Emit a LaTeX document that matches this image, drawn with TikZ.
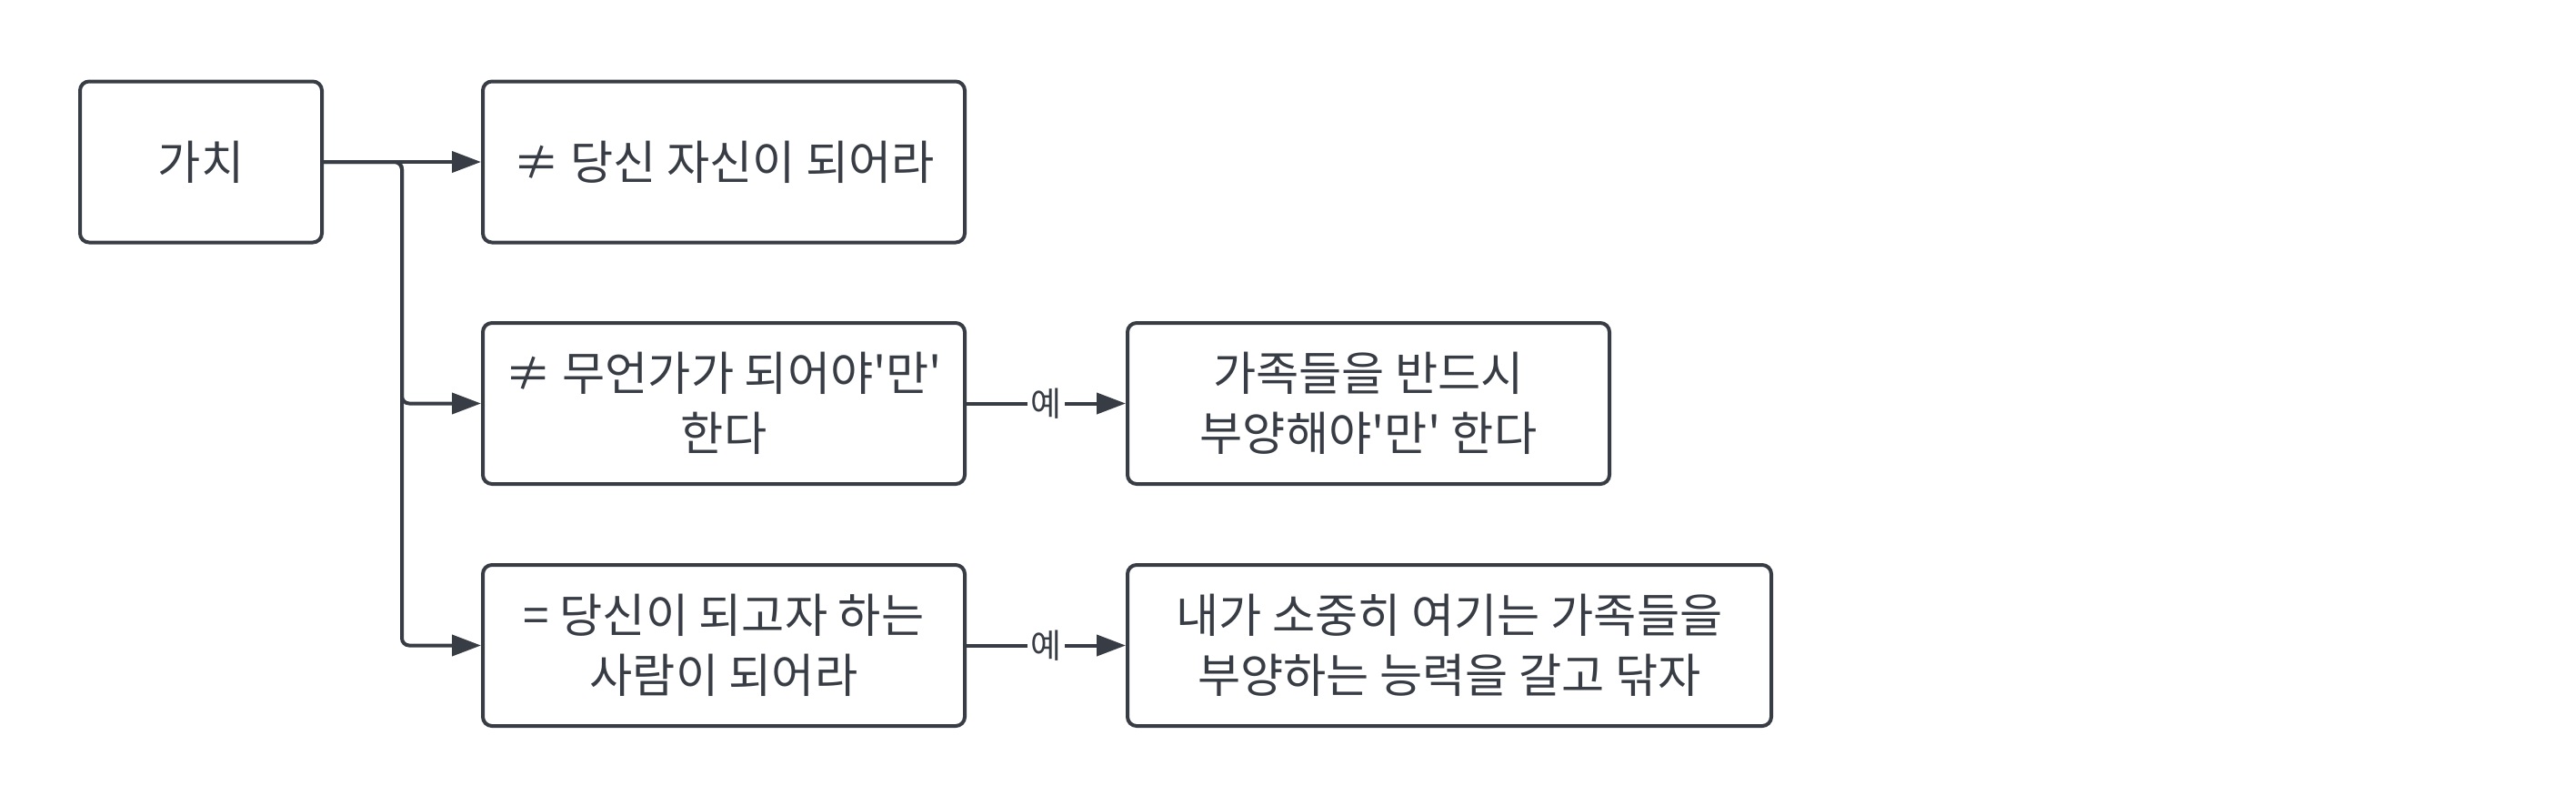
\documentclass[tikz,border=0pt]{standalone}
\usepackage{fontspec}
\setmainfont{Noto Sans CJK KR}
\usetikzlibrary{arrows.meta}
\definecolor{ink}{HTML}{383C44}
\newcommand{\sq}{\textquotesingle}
\tikzset{
  box/.style={draw=ink, line width=0.04cm, rounded corners=0.1cm, minimum height=1.77cm,
    inner sep=0pt, align=center, text=ink, font=\fontsize{14.6}{18.8}\selectfont},
  conn/.style={draw=ink, line width=0.04cm, -{Triangle[length=0.32cm,width=0.23cm]}},
  lbl/.style={fill=white, inner sep=1pt, text=ink, font=\fontsize{10.5}{12}\selectfont},
}
\begin{document}
\begin{tikzpicture}
\useasboundingbox (0,0) rectangle (28.33,8.85);
\node[box, minimum width=2.66cm] (a) at (2.21,7.07) {가치};
\node[box, minimum width=5.30cm] (b2) at (7.96,7.07) {≠ 당신 자신이 되어라};
\node[box, minimum width=5.30cm] (b3) at (7.96,4.415) {≠ 무언가가 되어야\sq 만\sq\\한다};
\node[box, minimum width=5.30cm] (b4) at (7.96,1.755) {= 당신이 되고자 하는\\사람이 되어라};
\node[box, minimum width=5.30cm] (b5) at (15.05,4.415) {가족들을 반드시\\부양해야\sq 만\sq{} 한다};
\node[box, minimum width=7.08cm] (b6) at (15.94,1.755) {내가 소중히 여기는 가족들을\\부양하는 능력을 갈고 닦자};
\coordinate (j) at (4.42,7.07);
\draw[conn] (a.east) -- (b2.west);
\draw[conn, rounded corners=0.08cm] (a.east) -- (j) |- (b3.west);
\draw[conn, rounded corners=0.08cm] (a.east) -- (j) |- (b4.west);
\draw[conn] (b3.east) -- node[lbl] {예} (b5.west);
\draw[conn] (b4.east) -- node[lbl] {예} (b6.west);
\end{tikzpicture}
\end{document}
